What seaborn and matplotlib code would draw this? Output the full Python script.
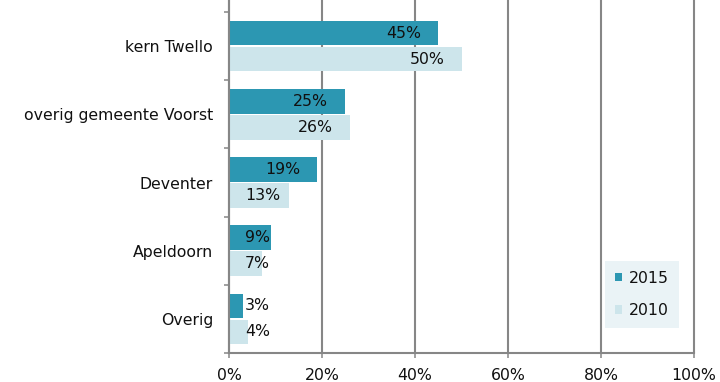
import matplotlib
matplotlib.use("Agg")
import matplotlib.pyplot as plt
import matplotlib.ticker as mticker
import seaborn as sns
import pandas as pd

# Herkomst naar woonplaats, aandeel per jaar
categories = ["kern Twello", "overig gemeente Voorst", "Deventer", "Apeldoorn", "Overig"]
values_2015 = [45, 25, 19, 9, 3]
values_2010 = [50, 26, 13, 7, 4]
years = ["2015", "2010"]
x_ticks = [0, 20, 40, 60, 80, 100]

df = pd.DataFrame({
    "categorie": categories * 2,
    "jaar": [years[0]] * len(categories) + [years[1]] * len(categories),
    "aandeel": values_2015 + values_2010,
})

sns.set_style("white")
plt.rcParams["font.family"] = ["DejaVu Sans"]
FS = 11.3
GRID = "#868686"
TXT = "#111111"
palette = {"2015": "#2C97B2", "2010": "#CDE5EB"}

fig = plt.figure(figsize=(7.2, 3.82), dpi=100)
ax = fig.add_axes([229 / 720, 1 - 353 / 382, (694 - 229) / 720, 353 / 382])

sns.barplot(data=df, y="categorie", x="aandeel", hue="jaar", hue_order=years,
            order=categories, orient="h", palette=palette, width=0.76, gap=0.05,
            saturation=1, linewidth=0, ax=ax, legend=True)

ax.set_xlim(0, 100)
ax.set_ylim(4.5, -0.676)
ax.set_xlabel("")
ax.set_ylabel("")

# Assen en rasterlijnen
ax.set_xticks(x_ticks)
ax.xaxis.set_major_formatter(mticker.FuncFormatter(lambda v, p: f"{v:.0f}%"))
ax.set_axisbelow(True)
ax.grid(axis="x", color=GRID, linewidth=1.5)
ax.grid(axis="y", visible=False)
for line in ax.get_xgridlines():
    line.set_clip_on(False)
for side in ["top", "right"]:
    ax.spines[side].set_visible(False)
for side in ["left", "bottom"]:
    ax.spines[side].set_color(GRID)
    ax.spines[side].set_linewidth(1.5)

ax.tick_params(axis="x", which="major", direction="out", length=3.6, width=1.1,
               color=GRID, labelsize=FS, labelcolor=TXT, pad=7, bottom=True)
ax.set_yticks(range(len(categories)))
ax.set_yticklabels(categories)
ax.tick_params(axis="y", which="major", length=0, labelsize=FS, labelcolor=TXT, pad=11.5)
ax.set_yticks([i - 0.5 for i in range(len(categories) + 1)], minor=True)
ax.tick_params(axis="y", which="minor", direction="out", length=3.6, width=1.1,
               color=GRID, left=True)

# Waardelabels: binnen het uiteinde van de balk, of vanaf de basis bij smalle balken
fig.canvas.draw()
renderer = fig.canvas.get_renderer()
to_px = ax.transData
px_per_unit = (to_px.transform((100, 0))[0] - to_px.transform((0, 0))[0]) / 100
for container, vals in zip(ax.containers, [values_2015, values_2010]):
    for bar, v in zip(container, vals):
        yc = bar.get_y() + bar.get_height() / 2
        t = ax.text(0, yc, f"{v}%", fontsize=FS, va="center", ha="left", color=TXT)
        w = t.get_window_extent(renderer).width / px_per_unit
        left = max(v - 17 / px_per_unit - w, 16 / px_per_unit)
        t.set_x(left)

leg = ax.legend(loc="upper left", bbox_to_anchor=((605 - 229) / 465, 1 - 261 / 353),
                frameon=True, fontsize=FS, handlelength=0.45, handleheight=0.45,
                handletextpad=0.45, labelspacing=1.1, borderpad=0.62, fancybox=False,
                borderaxespad=0)
leg.get_frame().set_facecolor("#E5F1F4")
leg.get_frame().set_edgecolor("none")
for txt in leg.get_texts():
    txt.set_color(TXT)

fig.savefig("out.png", dpi=100)
